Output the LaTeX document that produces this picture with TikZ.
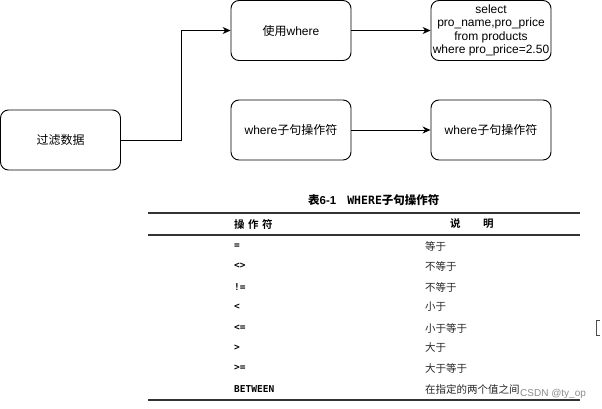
\documentclass[tikz,border=0pt]{standalone}
\usepackage{fontspec}
\setmainfont{Liberation Sans}
\newfontfamily\cjk{Noto Sans CJK SC}
\newfontfamily\cjkb{Noto Sans CJK SC Bold}
\newfontfamily\mono{DejaVu Sans Mono}
\usetikzlibrary{arrows.meta}
\begin{document}
\begin{tikzpicture}[x=1pt,y=-1pt,
  box/.style={draw,line width=0.9pt,rounded corners=8pt,minimum width=120pt,minimum height=60pt,inner sep=0pt,align=center,font=\fontsize{12}{13.5}\selectfont},
  conn/.style={line width=0.9pt,-{Stealth[length=8pt,width=7pt]}},
  rule/.style={line width=1.3pt,draw=black!80},
  op/.style={anchor=west,inner sep=0pt,font=\fontsize{9.5}{11}\mono\bfseries},
  desc/.style={anchor=west,inner sep=0pt,font=\fontsize{10.5}{12}\cjk\color{black!85}}]
\useasboundingbox (0,0) rectangle (602,409);
% flowchart
\node[box] (filter) at (60.5,140) {{\cjk 过滤数据}};
\node[box] (use) at (291,30.5) {{\cjk 使用}where};
\node[box] (sql) at (491,30.5) {select\\pro\_name,pro\_price\\from products\\where pro\_price=2.50};
\node[box] (op1) at (291,130) {where{\cjk 子句操作符}};
\node[box] (op2) at (491,130) {where{\cjk 子句操作符}};
\coordinate (bend1) at (181,140);
\coordinate (bend2) at (181,30.5);
\draw[conn] (filter.east) -- (bend1) -- (bend2) -- (use.west);
\draw[conn] (use.east) -- (sql.west);
\draw[conn] (op1.east) -- (op2.west);
% table
\node[anchor=west,inner sep=0pt,font=\fontsize{11.5}{13}\selectfont\bfseries] (title) at (308,200) {{\cjkb 表}6-1\hspace{11pt}{\mono\bfseries WHERE}{\cjkb 子句操作符}};
\coordinate (r1a) at (148,213); \coordinate (r1b) at (580,213);
\coordinate (r2a) at (148,235); \coordinate (r2b) at (580,235);
\coordinate (r3a) at (148,400); \coordinate (r3b) at (580,400);
\draw[rule] (r1a) -- (r1b);
\draw[rule] (r2a) -- (r2b);
\draw[rule] (r3a) -- (r3b);
\node[anchor=west,inner sep=0pt,font=\fontsize{10.5}{12}\cjkb] (h1) at (234,224) {操\,\,作\,\,符};
\node[anchor=west,inner sep=0pt,font=\fontsize{10.5}{12}\cjkb] (h2) at (450,224) {说};
\node[anchor=west,inner sep=0pt,font=\fontsize{10.5}{12}\cjkb] (h3) at (483,224) {明};
\node[op] (o1) at (234,246) {=};
\node[op] (o2) at (234,266) {<>};
\node[op] (o3) at (234,287) {!=};
\node[op] (o4) at (234,307) {<};
\node[op] (o5) at (234,328) {<=};
\node[op] (o6) at (234,348) {>};
\node[op] (o7) at (234,368) {>=};
\node[op] (o8) at (234,389) {BETWEEN};
\node[desc] (d1) at (425,246) {等于};
\node[desc] (d2) at (425,266) {不等于};
\node[desc] (d3) at (425,287) {不等于};
\node[desc] (d4) at (425,307) {小于};
\node[desc] (d5) at (425,328) {小于等于};
\node[desc] (d6) at (425,348) {大于};
\node[desc] (d7) at (425,368) {大于等于};
\node[desc] (d8) at (425,389) {在指定的两个值之间};
\node[anchor=west,inner sep=0pt,font=\fontsize{10}{12}\selectfont,text=black!45] (wm) at (520,394) {CSDN @ty\_op};
\draw[line width=0.8pt,black!70] (600,320) -- (596,320) -- (596,335) -- (600,335);
\end{tikzpicture}
\end{document}
